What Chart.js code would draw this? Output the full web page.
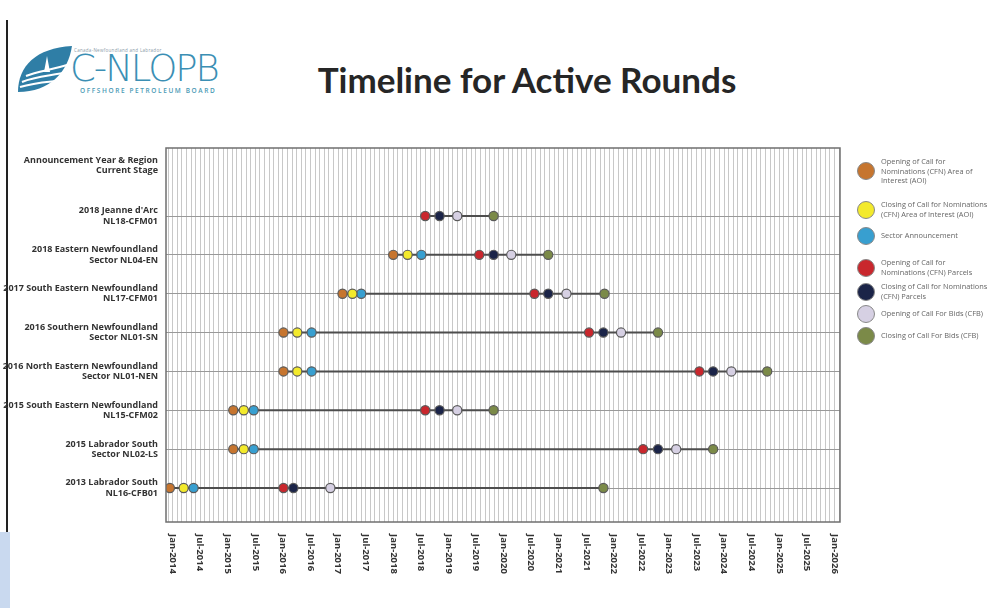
<!DOCTYPE html>
<html>
<head>
<meta charset="utf-8">
<script src="https://cdn.jsdelivr.net/npm/chart.js@4.4.1/dist/chart.umd.min.js"></script>
<style>
  html, body { margin: 0; padding: 0; background: #fff; }
  #wrap { position: relative; width: 994px; height: 608px; overflow: hidden; font-family: "Open Sans", sans-serif; }
  #timeline { position: absolute; left: 0; top: 0; }
  .frame-left { position: absolute; left: 6px; top: 20px; width: 2px; height: 600px; background: #222; }
  .corner { position: absolute; left: 0; top: 532px; width: 10px; height: 76px; background: #c9d9ef; }
  .title { position: absolute; left: 0; width: 1054px; top: 58px; text-align: center; font-family: Lato, sans-serif; font-weight: 700; font-size: 35px; color: #262626; }
  .logo { position: absolute; left: 14px; top: 42px; width: 220px; height: 56px; }
  .logo .small { position: absolute; left: 60px; top: 5px; font-size: 4.5px; color: #8a9aa8; letter-spacing: 0.3px; white-space: nowrap; }
  .logo .name { position: absolute; left: 56px; top: 7px; font-family: "DejaVu Sans", sans-serif; font-size: 37px; letter-spacing: -2px; color: #3b8fb4; font-weight: 300; line-height: 40px; white-space: nowrap; }
  .logo .sub { position: absolute; left: 66px; top: 44px; font-size: 6.5px; letter-spacing: 1.6px; color: #4a9ab5; white-space: nowrap; font-weight: 600; }
  .legend { position: absolute; left: 857px; top: 150px; width: 137px; }
  .legend .item { position: absolute; left: 0; display: flex; align-items: center; }
  .legend .dot { width: 16px; height: 16px; border-radius: 50%; border: 1px solid #888; flex: none; }
  .legend .txt { margin-left: 6px; font-size: 7.4px; line-height: 9.5px; color: #666; white-space: nowrap; }
</style>
</head>
<body>
<div id="wrap">
  <div class="frame-left"></div>
  <div class="corner"></div>
  <div class="logo">
    <svg width="60" height="56" viewBox="0 0 60 56">
      <path d="M4 50 C4 24 22 6 58 4 C54 30 36 50 4 50 Z" fill="#2f7ea6"/>
      <path d="M8 40 C22 34 36 34 54 30" stroke="#fff" stroke-width="2" fill="none"/>
      <path d="M6 45 C22 40 36 40 50 38" stroke="#fff" stroke-width="2" fill="none"/>
      <path d="M12 34 C24 29 38 28 56 22" stroke="#fff" stroke-width="2" fill="none"/>
      <path d="M30 30 L33 14 L36 30 Z" fill="#fff"/>
    </svg>
    <div class="small">Canada-Newfoundland and Labrador</div>
    <div class="name">C-NLOPB</div>
    <div class="sub">OFFSHORE PETROLEUM BOARD</div>
  </div>
  <div class="title">Timeline for Active Rounds</div>
  <canvas id="timeline" width="994" height="608"></canvas>
  <div class="legend" id="legend"></div>
</div>
<script>
// rounds, top to bottom (two-line labels)
const rounds = [
  ["2018 Jeanne d'Arc", "NL18-CFM01"],
  ["2018 Eastern Newfoundland", "Sector NL04-EN"],
  ["2017 South Eastern Newfoundland", "NL17-CFM01"],
  ["2016 Southern Newfoundland", "Sector NL01-SN"],
  ["2016 North Eastern Newfoundland", "Sector NL01-NEN"],
  ["2015 South Eastern Newfoundland", "NL15-CFM02"],
  ["2015 Labrador South", "Sector NL02-LS"],
  ["2013 Labrador South", "NL16-CFB01"]
];
const headerLabel = ["Announcement Year & Region", "Current Stage"];

// event dates (decimal years), one value per round, null = not part of that round
const openCfnAoi  = [null, 2018.00, 2017.08, 2016.01, 2016.01, 2015.10, 2015.10, 2013.95];
const closeCfnAoi = [null, 2018.26, 2017.26, 2016.26, 2016.26, 2015.29, 2015.29, 2014.20];
const sectorAnn   = [null, 2018.51, 2017.42, 2016.52, 2016.52, 2015.47, 2015.47, 2014.38];
const openCfnPar  = [2018.58, 2019.56, 2020.56, 2021.55, 2023.55, 2018.58, 2022.53, 2016.01];
const closeCfnPar = [2018.84, 2019.82, 2020.81, 2021.81, 2023.80, 2018.84, 2022.80, 2016.19];
const openCfb     = [2019.16, 2020.14, 2021.14, 2022.13, 2024.13, 2019.16, 2023.13, 2016.86];
const closeCfb    = [2019.82, 2020.81, 2021.83, 2022.80, 2024.78, 2019.82, 2023.80, 2021.81];

const xTickLabels = ["Jan-2014", "Jul-2014", "Jan-2015", "Jul-2015", "Jan-2016", "Jul-2016", "Jan-2017",
  "Jul-2017", "Jan-2018", "Jul-2018", "Jan-2019", "Jul-2019", "Jan-2020", "Jul-2020", "Jan-2021",
  "Jul-2021", "Jan-2022", "Jul-2022", "Jan-2023", "Jul-2023", "Jan-2024", "Jul-2024", "Jan-2025",
  "Jul-2025", "Jan-2026"];

// legend text, broken into lines as on the slide
const events = [
  { name: ["Opening of Call for", "Nominations (CFN) Area of", "Interest (AOI)"], values: openCfnAoi, color: "#c6752f" },
  { name: ["Closing of Call for Nominations", "(CFN) Area of Interest (AOI)"], values: closeCfnAoi, color: "#f3ea2c" },
  { name: ["Sector Announcement"], values: sectorAnn, color: "#389fd0" },
  { name: ["Opening of Call for", "Nominations (CFN) Parcels"], values: openCfnPar, color: "#c9272d" },
  { name: ["Closing of Call for Nominations", "(CFN) Parcels"], values: closeCfnPar, color: "#1b2448" },
  { name: ["Opening of Call For Bids (CFB)"], values: openCfb, color: "#d6d0e3" },
  { name: ["Closing of Call For Bids (CFB)"], values: closeCfb, color: "#7b8a48" }
];

const HEADER_POS = -1.3;

// connecting line for each round, first event to last event
const lineSets = rounds.map((r, i) => {
  const vals = events.map(e => e.values[i]).filter(v => v !== null);
  return {
    type: 'scatter',
    showLine: true,
    data: [{ x: Math.min(...vals), y: i }, { x: Math.max(...vals), y: i }],
    borderColor: '#4d4d4d',
    borderWidth: 2,
    pointRadius: 0,
    order: 2
  };
});

const pointSets = events.map(e => ({
  type: 'scatter',
  label: e.name.join(' '),
  data: e.values.map((v, i) => v === null ? null : { x: v, y: i }).filter(p => p),
  backgroundColor: e.color,
  borderColor: '#5a5a5a',
  borderWidth: 1.2,
  pointRadius: 4.6,
  order: 1
}));

// x labels are drawn rotated clockwise (reading top to bottom)
const xLabelPlugin = {
  id: 'xLabels',
  afterDraw(chart) {
    const { ctx, chartArea, scales } = chart;
    ctx.save();
    ctx.strokeStyle = '#6f6f6f';
    ctx.lineWidth = 1.5;
    ctx.strokeRect(chartArea.left, chartArea.top, chartArea.right - chartArea.left, chartArea.bottom - chartArea.top);
    ctx.fillStyle = '#333';
    ctx.font = 'bold 9.5px "Open Sans"';
    ctx.textAlign = 'left';
    ctx.textBaseline = 'middle';
    xTickLabels.forEach((lab, k) => {
      const x = scales.x.getPixelForValue(2014 + k / 2);
      ctx.save();
      ctx.translate(x, chartArea.bottom + 12);
      ctx.rotate(Math.PI / 2);
      ctx.fillText(lab, 0, 0);
      ctx.restore();
    });
    ctx.restore();
  }
};

new Chart(document.getElementById('timeline'), {
  type: 'scatter',
  data: { datasets: [...lineSets, ...pointSets] },
  options: {
    responsive: false,
    animation: false,
    layout: { padding: { top: 148, right: 154, left: 0, bottom: 0 } },
    plugins: { legend: { display: false }, tooltip: { enabled: false } },
    scales: {
      x: {
        type: 'linear',
        min: 2013.88,
        max: 2026.1,
        afterBuildTicks(scale) {
          const t = [];
          for (let k = -1; k <= 145; k++) {
            const v = 2014 + k / 12;
            if (v >= scale.min && v <= scale.max) t.push({ value: v });
          }
          scale.ticks = t;
        },
        afterFit(scale) { scale.height = 86; },
        ticks: { display: false },
        grid: { color: '#c8c8c8', lineWidth: 1, drawTicks: false },
        border: { display: false }
      },
      y: {
        type: 'linear',
        reverse: true,
        min: -1.75,
        max: 7.875,
        afterBuildTicks(scale) {
          scale.ticks = [{ value: HEADER_POS }].concat(rounds.map((r, i) => ({ value: i })));
        },
        afterFit(scale) { scale.width = 166; },
        ticks: {
          padding: 8,
          color: '#333',
          font: { family: 'Open Sans', size: 9, weight: 'bold', lineHeight: 1.15 },
          callback(v) {
            if (v === HEADER_POS) return headerLabel;
            return rounds[v] || '';
          }
        },
        grid: {
          drawTicks: false,
          color: ctx => ctx.tick && ctx.tick.value === HEADER_POS ? 'rgba(0,0,0,0)' : '#999',
          lineWidth: 1
        },
        border: { display: false }
      }
    }
  },
  plugins: [xLabelPlugin]
});

// legend on the right
const legendTops = [165, 208, 235, 266, 290, 313, 335];
const legend = document.getElementById('legend');
events.forEach((e, i) => {
  const item = document.createElement('div');
  item.className = 'item';
  item.style.top = (legendTops[i] - 150 - 8) + 'px';
  item.innerHTML = '<span class="dot" style="background:' + e.color + '"></span><span class="txt">' + e.name.join('<br>') + '</span>';
  legend.appendChild(item);
});
</script>
</body>
</html>
